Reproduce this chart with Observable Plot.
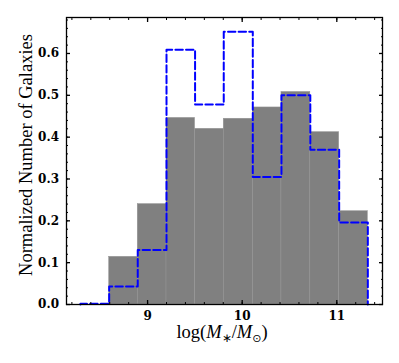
<!DOCTYPE html>
<html><head><meta charset="utf-8">
<script src="https://cdn.jsdelivr.net/npm/d3@7"></script>
<script src="https://cdn.jsdelivr.net/npm/@observablehq/plot@0.6"></script>
<style>body{margin:0;background:#fff}#chart{width:399px;height:363px}</style>
</head><body><div id="chart"></div>
<script>
// Histogram bin edges in log(M*/Msun)
const binEdges = [8.29, 8.594, 8.896, 9.2, 9.502, 9.805, 10.112, 10.415, 10.72, 11.025, 11.328];
// Filled gray histogram (normalized)
const filledValues = [0.0, 0.114, 0.240, 0.446, 0.420, 0.444, 0.471, 0.508, 0.412, 0.223];
// Blue dashed step histogram (normalized)
const stepValues = [0.002, 0.043, 0.130, 0.609, 0.478, 0.652, 0.305, 0.500, 0.370, 0.196];
// Axis ticks
const xTickValues = [9, 10, 11];
const xTickLabels = ["9", "10", "11"];
const yTickValues = [0, 0.1, 0.2, 0.3, 0.4, 0.5, 0.6];
const yTickLabels = ["0.0", "0.1", "0.2", "0.3", "0.4", "0.5", "0.6"];
const xMinorTicks = d3.range(41, 58).map(k => k / 5);
const yMinorTicks = d3.range(0, 35).map(k => k / 50);

const bars = filledValues.map((v, i) => ({x1: binEdges[i], x2: binEdges[i + 1], y: v}));
const stepPts = [{x: binEdges[0], y: 0}];
stepValues.forEach((v, i) => { stepPts.push({x: binEdges[i], y: v}, {x: binEdges[i + 1], y: v}); });
stepPts.push({x: binEdges[binEdges.length - 1], y: 0});

const tickOpts = {fill: "none", label: null, stroke: "black"};

const svg = Plot.plot({
  width: 399, height: 363,
  marginLeft: 66, marginRight: 17, marginTop: 17, marginBottom: 59,
  style: {fontFamily: "DejaVu Serif", fontWeight: "bold", fontSize: "12px", background: "white", color: "black"},
  x: {domain: [8.143, 11.483]},
  y: {domain: [0, 0.686]},
  marks: [
    Plot.rectY(bars, {x1: "x1", x2: "x2", y: "y", fill: "#808080", stroke: "#959595", strokeWidth: 0.5}),
    Plot.line(stepPts, {x: "x", y: "y", stroke: "#0000ff", strokeWidth: 2, strokeDasharray: "7.4,3.2"}),
    Plot.frame({stroke: "black", strokeWidth: 1.3}),
    Plot.axisX(xMinorTicks, {anchor: "bottom", tickSize: -2, strokeWidth: 1, ...tickOpts}),
    Plot.axisX(xMinorTicks, {anchor: "top", tickSize: -2, strokeWidth: 1, ...tickOpts}),
    Plot.axisX(xTickValues, {anchor: "bottom", tickSize: -4, strokeWidth: 1.3, ...tickOpts}),
    Plot.axisX(xTickValues, {anchor: "top", tickSize: -4, strokeWidth: 1.3, ...tickOpts}),
    Plot.axisY(yMinorTicks, {anchor: "left", tickSize: -2, strokeWidth: 1, ...tickOpts}),
    Plot.axisY(yMinorTicks, {anchor: "right", tickSize: -2, strokeWidth: 1, ...tickOpts}),
    Plot.axisY(yTickValues, {anchor: "left", tickSize: -4, strokeWidth: 1.3, ...tickOpts}),
    Plot.axisY(yTickValues, {anchor: "right", tickSize: -4, strokeWidth: 1.3, ...tickOpts}),
    Plot.axisX(xTickValues, {anchor: "bottom", tickSize: 0, tickPadding: 7, label: null,
      tickFormat: d => xTickLabels[xTickValues.indexOf(d)]}),
    Plot.axisY(yTickValues, {anchor: "left", tickSize: 0, tickPadding: 7.5, label: null,
      tickFormat: d => yTickLabels[yTickValues.indexOf(d)]})
  ]
});

const s = d3.select(svg);
s.append("text")
  .attr("transform", "translate(32,155) rotate(-90)")
  .attr("text-anchor", "middle")
  .style("font-family", "'Liberation Serif', serif")
  .style("font-size", "18.5px")
  .style("font-weight", "normal")
  .attr("fill", "black")
  .text("Normalized Number of Galaxies");

const xl = s.append("text")
  .attr("x", 222).attr("y", 337.5)
  .attr("text-anchor", "middle")
  .style("font-family", "'Liberation Serif', serif")
  .style("font-size", "18.5px")
  .style("font-weight", "normal")
  .attr("fill", "black");
xl.append("tspan").text("log(");
xl.append("tspan").style("font-style", "italic").text("M");
xl.append("tspan").attr("dy", 4).style("font-size", "12px").text("∗");
xl.append("tspan").attr("dy", -4).text("/");
xl.append("tspan").style("font-style", "italic").text("M");
xl.append("tspan").attr("dy", 4).style("font-size", "11px").style("font-family", "'DejaVu Sans'").text("⊙");
xl.append("tspan").attr("dy", -4).text(")");

document.getElementById("chart").appendChild(svg);
</script>
</body></html>
